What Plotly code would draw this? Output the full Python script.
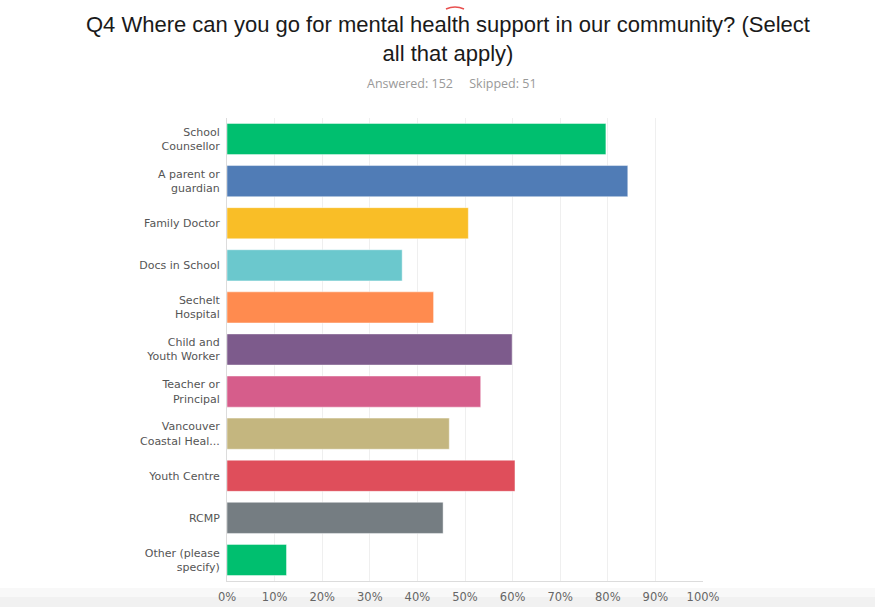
import plotly.graph_objects as go

categories = [
    "School<br>Counsellor",
    "A parent or<br>guardian",
    "Family Doctor",
    "Docs in School",
    "Sechelt<br>Hospital",
    "Child and<br>Youth Worker",
    "Teacher or<br>Principal",
    "Vancouver<br>Coastal Heal...",
    "Youth Centre",
    "RCMP",
    "Other (please<br>specify)",
]
percentages = [79.6, 84.2, 50.7, 36.8, 43.4, 59.9, 53.3, 46.7, 60.5, 45.4, 12.5]
colors = ["#00BF6F", "#507CB6", "#F9BE27", "#6BC8CD", "#FF8B4F", "#7D5B8C",
          "#D65D8B", "#C4B67F", "#DF4E5B", "#757D82", "#00BF6F"]
x_ticks = [0, 10, 20, 30, 40, 50, 60, 70, 80, 90, 100]
x_tick_labels = [f"{v}%" for v in x_ticks]
title_text = ("Q4 Where can you go for mental health support in our community? (Select"
              "<br>all that apply)")
subtitle = "Answered: 152\u00a0\u00a0\u00a0\u00a0\u00a0Skipped: 51"

W, H = 875, 607
L, R, T, B = 227, 703, 118, 581


def px(x):
    return (x - L) / (R - L)


def py(y):
    return (B - y) / (B - T)


fig = go.Figure(go.Bar(
    x=percentages, y=categories, orientation="h",
    marker=dict(color=colors, line=dict(color="rgba(255,255,255,0.45)", width=1)),
    hoverinfo="skip",
))

fig.update_layout(
    width=W, height=H,
    margin=dict(l=L, r=W - R, t=T, b=H - B, autoexpand=False),
    paper_bgcolor="white", plot_bgcolor="white",
    bargap=0.26, showlegend=False,
    font=dict(family="DejaVu Sans", color="#666666"),
)
fig.update_xaxes(
    range=[0, 100], tickvals=x_ticks, ticktext=x_tick_labels,
    showgrid=True, gridcolor="#efefef", gridwidth=1,
    showline=True, linecolor="#dcdcdc", linewidth=1,
    zeroline=False, tickfont=dict(family="DejaVu Sans", size=11.5, color="#666666"),
    ticks="outside", ticklen=5, tickcolor="rgba(0,0,0,0)",
    fixedrange=True,
)
fig.update_yaxes(
    autorange="reversed", showline=True, linecolor="#dcdcdc", linewidth=1,
    showgrid=False, tickfont=dict(family="DejaVu Sans", size=11, color="#555555"),
    ticks="outside", ticklen=4, tickcolor="rgba(0,0,0,0)",
    fixedrange=True,
)

annotations = [
    dict(text=title_text, x=px(448), y=py(39), xref="paper", yref="paper",
         showarrow=False, xanchor="center", yanchor="middle", align="center",
         font=dict(family="Liberation Sans", size=22, color="#1a1a1a")),
    dict(text=subtitle, x=px(452), y=py(83), xref="paper", yref="paper",
         showarrow=False, xanchor="center", yanchor="middle",
         font=dict(family="Open Sans", size=12.5, color="#999999")),
]
fig.update_layout(annotations=annotations)

shapes = [
    dict(type="rect", xref="paper", yref="paper", x0=px(0), x1=px(W), y0=py(588), y1=py(597),
         fillcolor="#f8f8f8", line=dict(width=0), layer="below"),
    dict(type="rect", xref="paper", yref="paper", x0=px(0), x1=px(W), y0=py(597), y1=py(H),
         fillcolor="#f1f1f1", line=dict(width=0), layer="below"),
    dict(type="path", xref="paper", yref="paper",
         path=f"M {px(446)},{py(9)} Q {px(455)},{py(5)} {px(464)},{py(9)}",
         line=dict(color="#e8504f", width=1.5)),
]
fig.update_layout(shapes=shapes)

fig.write_html("out.html")
